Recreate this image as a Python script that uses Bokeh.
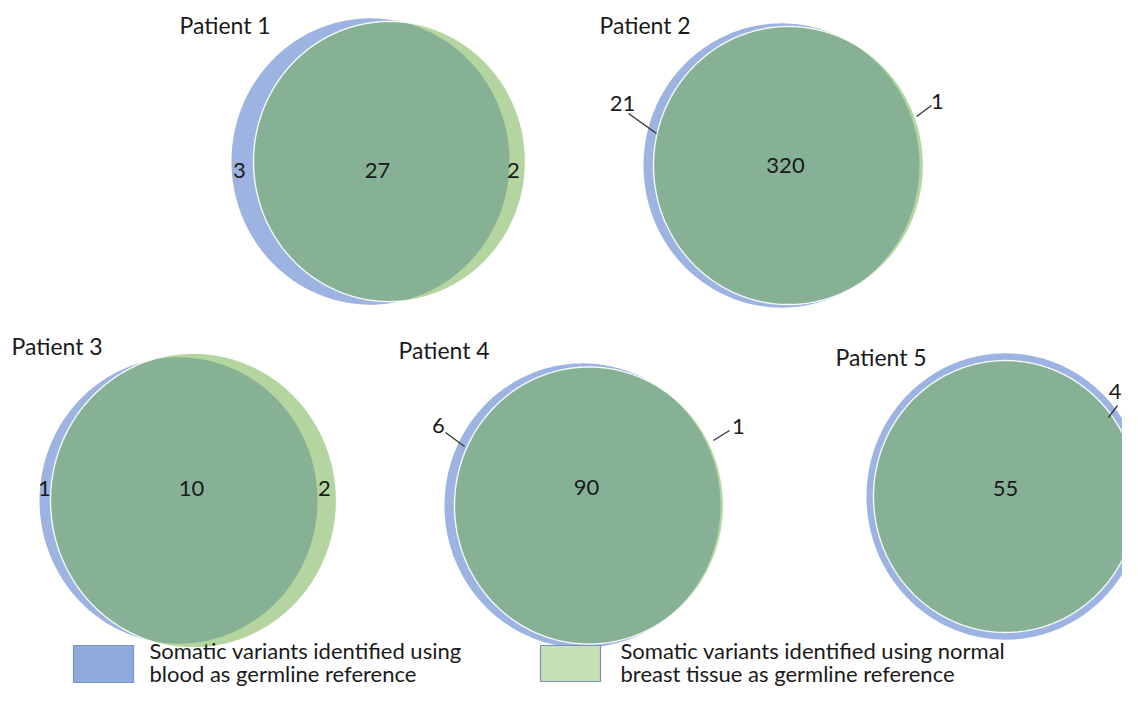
import numpy as np
from bokeh.plotting import figure
from bokeh.models import Range1d, ColumnDataSource
from bokeh.core.properties import value
from bokeh.embed import file_html
from bokeh.resources import INLINE

# ---------------- data ----------------
patients = ["Patient 1", "Patient 2", "Patient 3", "Patient 4", "Patient 5"]
blood_only = [3, 21, 1, 6, 4]
shared = [27, 320, 10, 90, 55]
tissue_only = [2, 1, 2, 1, 0]
legend_labels = [
    ["Somatic variants identified using", "blood as germline reference"],
    ["Somatic variants identified using normal", "breast tissue as germline reference"],
]

# ---------------- layout (pixel coordinates, y downwards) ----------------
K = 1.03  # slight vertical stretch of the circles
blue_geom = [(370, 161, 139), (781, 165, 138), (178, 500, 139), (582, 505, 138), (1005, 496, 139)]
green_geom = [(389, 161, 136), (788, 165, 135), (193, 500, 143), (588.5, 505, 134.5), (1005, 496, 132)]
title_pos = [(179, 24), (599, 24), (11, 345), (398, 349), (835, 356)]
shared_pos = [(377, 170), (785, 165), (191, 488), (586, 487), (1005, 488)]
blood_pos = [(239, 170), (622, 103), (44, 488), (438, 425), (1121, 391)]
blood_align = ["center", "center", "center", "center", "right"]
tissue_pos = [(513, 170), (937, 101), (324, 488), (738, 426), None]
blood_leader = [None, ((628, 113), (656, 133)), None, ((445, 432), (464, 446)), ((1108, 417), (1117, 405))]
tissue_leader = [None, ((916, 116), (931, 105)), None, ((713, 440), (729, 430)), None]
legend_box = [(73, 133, 645, 682), (540, 600, 645, 681)]
legend_text_x = [149, 620]
legend_text_y = [650, 673]

BLUE = "#9DB3E1"
LIGHT_GREEN = "#B4D5A0"
DARK_GREEN = "#86B194"
LEG_BLUE = "#8FAADC"
LEG_GREEN = "#C5E0B4"
LEG_BORDER = "#7893C2"
TXT = "#1a1a1a"
FONT = value("Lato")


def ellipse_pts(cx, cy, r, n=480):
    t = np.linspace(0, 2 * np.pi, n)
    return list(cx + r * np.cos(t)), list(cy + K * r * np.sin(t))


def lens_pts(b, g, n=1440):
    bx, by, br = b
    gx, gy, gr = g
    t = np.linspace(0, 2 * np.pi, n, endpoint=False)
    bxs, bys = bx + br * np.cos(t), by / K + br * np.sin(t)
    gxs, gys = gx + gr * np.cos(t), gy / K + gr * np.sin(t)
    in_b = (bxs - gx) ** 2 + (bys - gy / K) ** 2 <= gr ** 2
    in_g = (gxs - bx) ** 2 + (gys - by / K) ** 2 <= br ** 2
    xs = np.concatenate([bxs[in_b], gxs[in_g]])
    ys = np.concatenate([bys[in_b], gys[in_g]])
    mx, my = xs.mean(), ys.mean()
    order = np.argsort(np.arctan2(ys - my, xs - mx))
    return list(xs[order]), list(ys[order] * K)


p = figure(width=1122, height=690, output_backend="svg", toolbar_location=None,
           x_range=Range1d(0, 1122), y_range=Range1d(690, 0),
           min_border=0, outline_line_color=None)
p.axis.visible = False
p.grid.visible = False
p.background_fill_color = "white"
p.border_fill_color = "white"

bx_l, by_l, gx_l, gy_l, lx_l, ly_l = [], [], [], [], [], []
for b, g in zip(blue_geom, green_geom):
    x, y = ellipse_pts(*b)
    bx_l.append(x); by_l.append(y)
    x, y = ellipse_pts(*g)
    gx_l.append(x); gy_l.append(y)
    x, y = lens_pts(b, g)
    lx_l.append(x); ly_l.append(y)

p.patches(bx_l, by_l, fill_color=BLUE, line_color=None)
p.patches(gx_l, gy_l, fill_color=LIGHT_GREEN, line_color=None)
p.patches(lx_l, ly_l, fill_color=DARK_GREEN, line_color=None)
p.multi_line(gx_l, gy_l, line_color="white", line_width=1.4, line_alpha=0.9)

# titles
p.text(x=[t[0] for t in title_pos], y=[t[1] for t in title_pos], text=patients,
       text_font=FONT, text_font_size="23px", text_color=TXT,
       text_align="left", text_baseline="middle")

# counts
src_sh = ColumnDataSource(dict(x=[s[0] for s in shared_pos], y=[s[1] for s in shared_pos],
                               t=[str(v) for v in shared]))
p.text("x", "y", text="t", source=src_sh, text_font=FONT, text_font_size="22px",
       text_color=TXT, text_align="center", text_baseline="middle")

cx, cy, ct, ca = [], [], [], []
for i in range(len(patients)):
    if blood_only[i] > 0:
        cx.append(blood_pos[i][0]); cy.append(blood_pos[i][1]); ct.append(str(blood_only[i]))
        ca.append(blood_align[i])
    if tissue_only[i] > 0 and tissue_pos[i] is not None:
        cx.append(tissue_pos[i][0]); cy.append(tissue_pos[i][1]); ct.append(str(tissue_only[i]))
        ca.append("center")
src_side = ColumnDataSource(dict(x=cx, y=cy, t=ct, a=ca))
p.text("x", "y", text="t", source=src_side, text_font=FONT, text_font_size="22px",
       text_color=TXT, text_align="a", text_baseline="middle")

lxs, lys = [], []
for ld in blood_leader + tissue_leader:
    if ld is not None:
        lxs.append([ld[0][0], ld[1][0]]); lys.append([ld[0][1], ld[1][1]])
p.multi_line(lxs, lys, line_color="#333333", line_width=1.3)

# legend
p.quad(left=[b[0] for b in legend_box], right=[b[1] for b in legend_box],
       top=[b[2] for b in legend_box], bottom=[b[3] for b in legend_box],
       fill_color=[LEG_BLUE, LEG_GREEN], line_color=LEG_BORDER, line_width=1.2)
tx, ty, tt = [], [], []
for j, lines in enumerate(legend_labels):
    for k, line in enumerate(lines):
        tx.append(legend_text_x[j]); ty.append(legend_text_y[k]); tt.append(line)
p.text(x=tx, y=ty, text=tt, text_font=FONT, text_font_size="22px", text_color=TXT,
       text_align="left", text_baseline="middle")

open("out.html", "w").write(file_html(p, INLINE))
